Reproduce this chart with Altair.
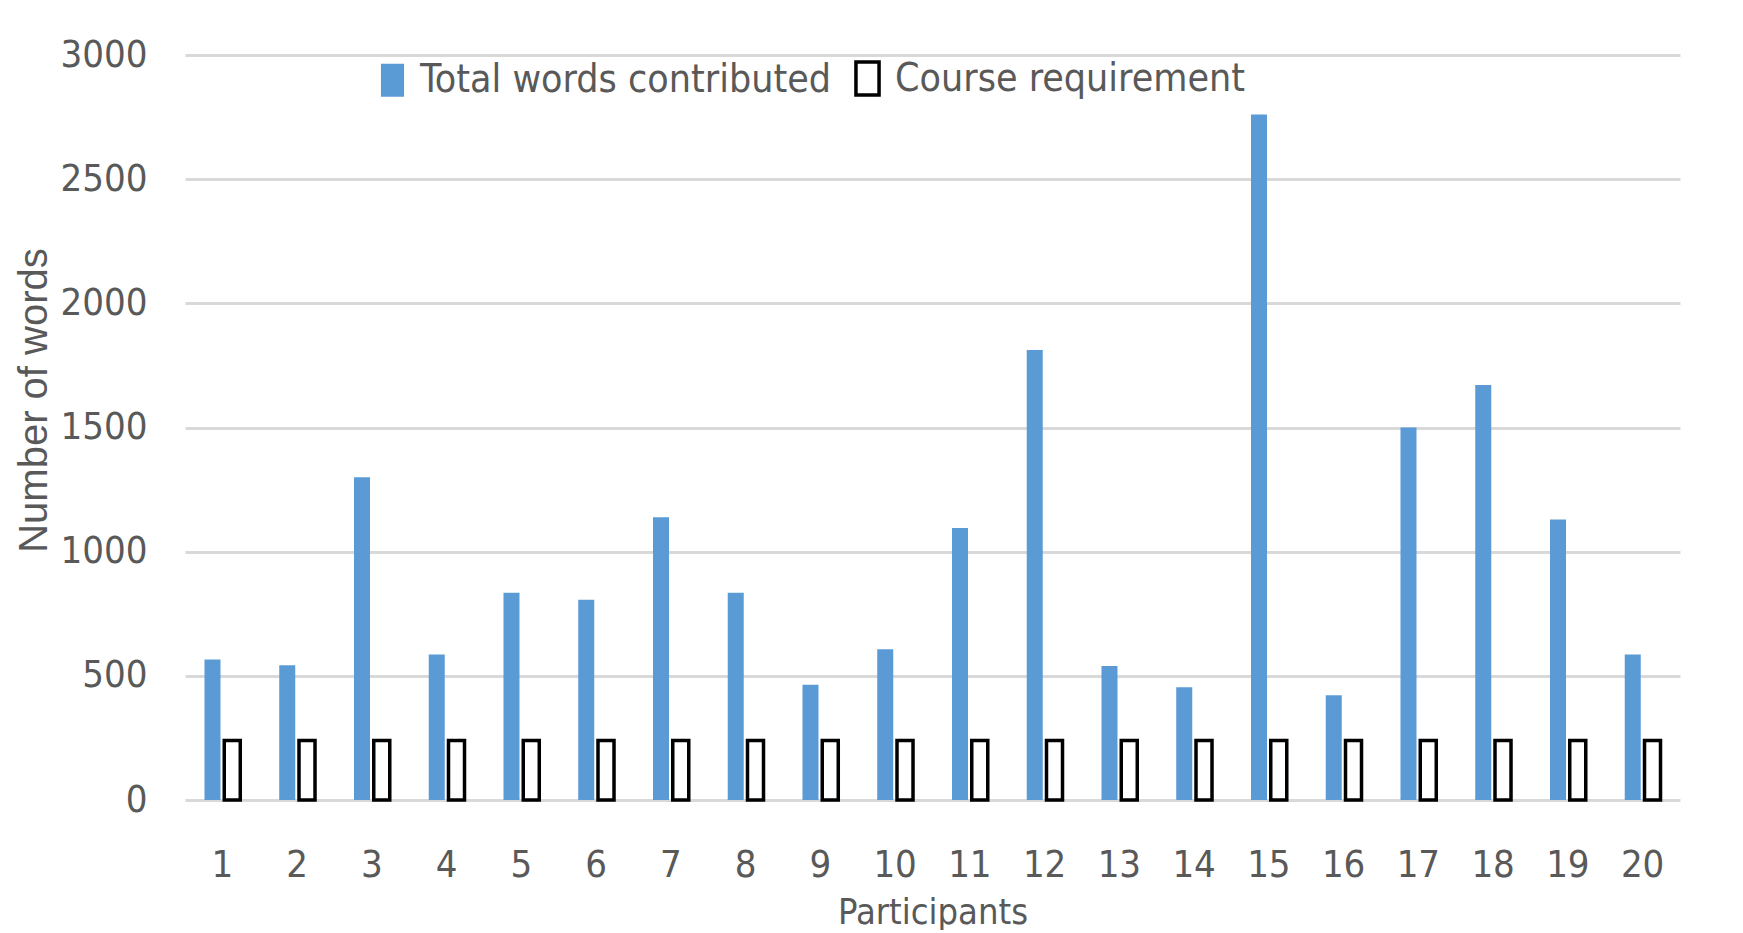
import altair as alt
import pandas as pd

participants = list(range(1, 21))
total_words = [566, 543, 1300, 586, 835, 806, 1139, 835, 464, 607,
               1095, 1812, 540, 454, 2760, 422, 1500, 1671, 1130, 586]
course_requirement = [240] * 20
series_names = ["Total words contributed", "Course requirement"]
y_ticks = [0, 500, 1000, 1500, 2000, 2500, 3000]

rows = []
for p, t, c in zip(participants, total_words, course_requirement):
    rows.append({"Participant": p, "Series": series_names[0], "Words": t})
    rows.append({"Participant": p, "Series": series_names[1], "Words": c})
df = pd.DataFrame(rows)

NARROW = "Liberation Sans Narrow, DejaVu Sans Condensed, Arial Narrow, sans-serif"
GREY = "#595959"
BLUE = "#5B9BD5"

sym_path = "M-0.7,-1H0.7V1H-0.7Z"
legend = alt.Legend(
    title=None, orient="none", direction="horizontal",
    legendX=188, legendY=4,
    symbolType=sym_path, symbolSize=1089, symbolStrokeWidth=3.5,
    labelFont=NARROW, labelFontSize=39, labelColor=GREY,
    labelOffset=8, columnPadding=16, padding=0, labelLimit=600,
)

chart = alt.Chart(df).mark_bar().encode(
    x=alt.X("Participant:O",
            scale=alt.Scale(paddingInner=0.5214, paddingOuter=0.2607),
            axis=alt.Axis(title="Participants", labelAngle=0, ticks=False,
                          domain=False, labelPadding=46,
                          labelFont=NARROW, labelFontSize=38, labelColor=GREY,
                          titleFont=NARROW, titleFontSize=36, titleColor=GREY,
                          titleFontWeight="normal", titleY=95,
                          titleBaseline="top")),
    xOffset=alt.XOffset("Series:N", sort=series_names,
                        scale=alt.Scale(domain=series_names, paddingInner=0.19,
                                        paddingOuter=0)),
    y=alt.Y("Words:Q",
            scale=alt.Scale(domain=[0, 3000], nice=False),
            axis=alt.Axis(title="Number of words", values=y_ticks, ticks=False,
                          domain=False, labelPadding=38, format="d",
                          labelFont=NARROW, labelFontSize=38, labelColor=GREY,
                          gridColor="#d9d9d9", gridWidth=3,
                          titleFont="Liberation Sans", titleFontSize=40,
                          titleColor=GREY, titleFontWeight="normal",
                          titleX=-151, titleY=345, titleBaseline="middle",
                          titleAngle=270)),
    fill=alt.Fill("Series:N",
                  scale=alt.Scale(domain=series_names, range=[BLUE, "white"]),
                  legend=legend),
    stroke=alt.Stroke("Series:N",
                      scale=alt.Scale(domain=series_names, range=[BLUE, "black"]),
                      legend=legend),
    strokeWidth=alt.StrokeWidth("Series:N",
                                scale=alt.Scale(domain=series_names, range=[0, 3.5]),
                                legend=None),
).properties(
    width=1495, height=745, background="white",
    padding={"left": 6, "top": 28, "right": 5, "bottom": 0},
).configure_view(stroke=None)

chart.save("out.html", embed_options={"renderer": "svg", "actions": False})
